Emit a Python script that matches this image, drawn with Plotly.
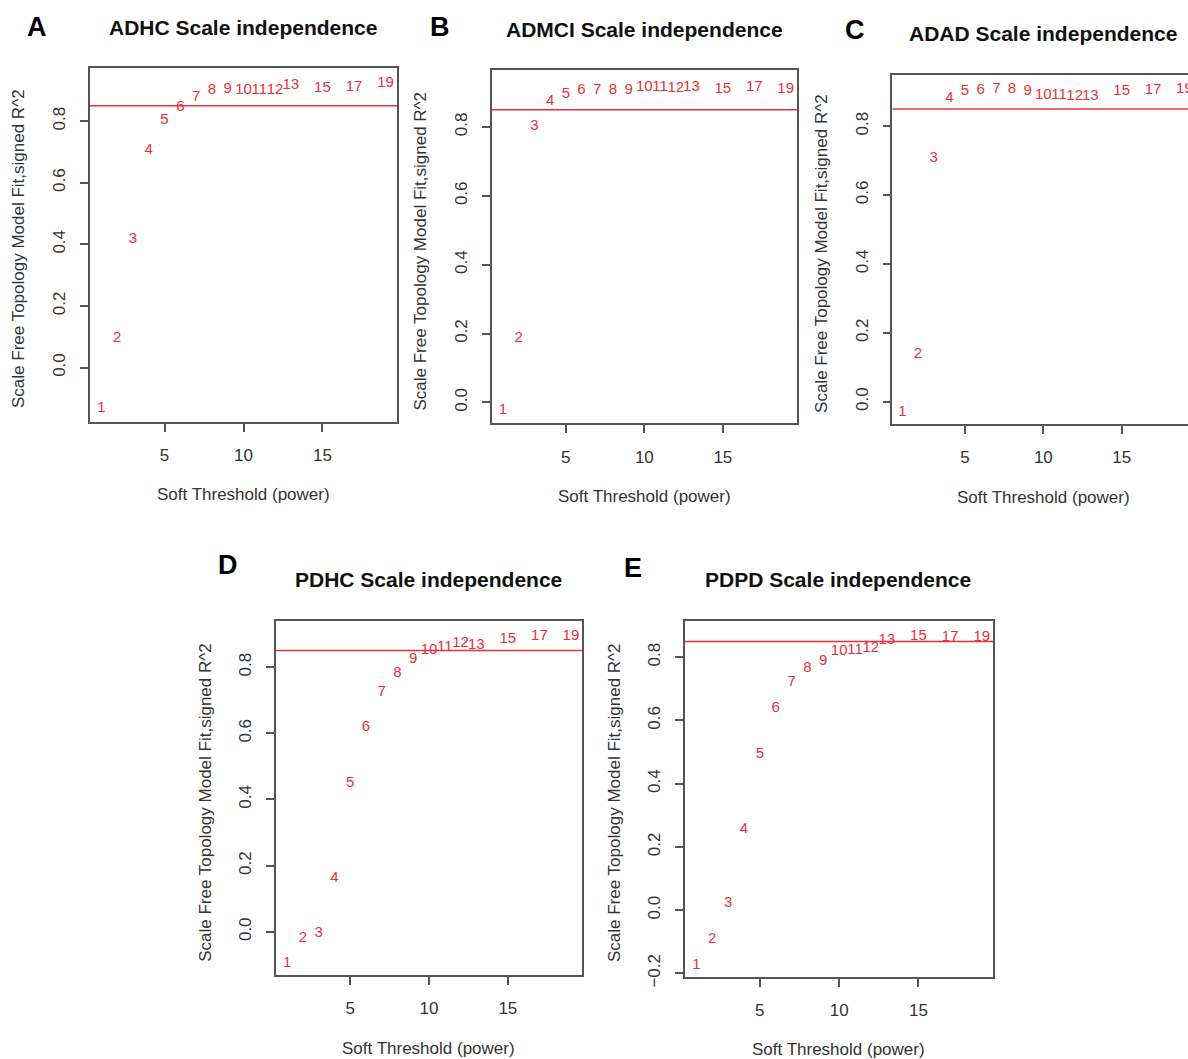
import plotly.graph_objects as go

W, H = 1188, 1059
H_FIG = 1072

powers = [1, 2, 3, 4, 5, 6, 7, 8, 9, 10, 11, 12, 13, 15, 17, 19]
power_labels = [str(p) for p in powers]

adhc_r2 = [-0.131, 0.095, 0.415, 0.706, 0.803, 0.845, 0.879, 0.899, 0.905, 0.899, 0.899, 0.900, 0.917, 0.908, 0.909, 0.923]
admci_r2 = [-0.024, 0.186, 0.802, 0.876, 0.894, 0.907, 0.907, 0.907, 0.907, 0.915, 0.915, 0.912, 0.915, 0.909, 0.915, 0.909]
adad_r2 = [-0.031, 0.137, 0.706, 0.881, 0.900, 0.903, 0.907, 0.907, 0.900, 0.890, 0.890, 0.887, 0.887, 0.900, 0.903, 0.907]
pdhc_r2 = [-0.094, -0.020, -0.003, 0.162, 0.449, 0.619, 0.724, 0.783, 0.823, 0.851, 0.861, 0.871, 0.867, 0.884, 0.894, 0.894]
pdpd_r2 = [-0.174, -0.092, 0.023, 0.255, 0.494, 0.637, 0.721, 0.764, 0.787, 0.819, 0.822, 0.829, 0.853, 0.866, 0.863, 0.863]

panel_letters = ["A", "B", "C", "D", "E"]
panel_titles = ["ADHC Scale independence", "ADMCI Scale independence", "ADAD Scale independence",
                "PDHC Scale independence", "PDPD Scale independence"]
series = [adhc_r2, admci_r2, adad_r2, pdhc_r2, pdpd_r2]
cutoff = 0.85
x_title = "Soft Threshold (power)"
y_title = "Scale Free Topology Model Fit,signed R^2"
x_ticks = [5, 10, 15]
y_ticks = [-0.2, 0.0, 0.2, 0.4, 0.6, 0.8]

# layout geometry in pixels: (left, right, top, bottom)
boxes = [(90, 397, 68, 421), (491.7, 797, 70, 422.7), (892.3, 1188, 75, 423.3),
         (275.7, 582.3, 620, 973.3), (685, 993.3, 620, 975)]
x_ranges = [[0.28, 19.72], [0.28, 19.72], [0.36, 19.23], [0.28, 19.72], [0.28, 19.72]]
y_ranges = [[-0.176, 0.972], [-0.061, 0.965], [-0.065, 0.948], [-0.131, 0.939], [-0.211, 0.914]]
title_pos = [(243, 27), (644, 29), (1043, 33), (428, 578), (838, 578)]
letter_pos = [(37, 27), (440, 27), (855, 30), (228, 564), (633, 567)]
xtitle_x = [243, 644, 1043, 428, 838]

RED = "#E8303A"
AX = "#555555"
TXT = "#333333"
FONT = "Liberation Sans, Arial, sans-serif"

def fx(px):
    return px / W

def fy(py):
    return 1 - py / H

fig = go.Figure()
annotations = []
for i in range(5):
    n = "" if i == 0 else str(i + 1)
    l, r, t, b = boxes[i]
    fig.add_trace(go.Scatter(
        x=powers, y=series[i], text=power_labels, mode="text",
        textfont=dict(color=RED, size=15, family=FONT),
        textposition="middle center", showlegend=False, hoverinfo="x+y",
        xaxis="x" + n, yaxis="y" + n))
    fig.add_trace(go.Scatter(
        x=x_ranges[i], y=[cutoff, cutoff], mode="lines",
        line=dict(color=RED, width=1.5), showlegend=False, hoverinfo="skip",
        xaxis="x" + n, yaxis="y" + n))
    fig.layout["xaxis" + n] = dict(
        domain=[fx(l), fx(r)], range=x_ranges[i], anchor="y" + n,
        tickvals=x_ticks, ticks="outside", ticklen=8, tickwidth=1.5, tickcolor=AX,
        ticklabelstandoff=9,
        showline=True, linecolor=AX, linewidth=1.5, mirror=True,
        showgrid=False, zeroline=False,
        tickfont=dict(size=17, color=TXT, family=FONT))
    fig.layout["yaxis" + n] = dict(
        domain=[fy(b), fy(t)], range=y_ranges[i], anchor="x" + n,
        tickvals=y_ticks, tickformat=".1f", tickangle=-90,
        ticks="outside", ticklen=8, tickwidth=1.5, tickcolor=AX,
        ticklabelstandoff=8,
        showline=True, linecolor=AX, linewidth=1.5, mirror=(i != 2),
        showgrid=False, zeroline=False,
        tickfont=dict(size=17, color=TXT, family=FONT))
    annotations.append(dict(
        text=x_title, xref="paper", yref="paper", x=fx(xtitle_x[i]),
        y=fy(b + 73), xanchor="center", yanchor="middle", showarrow=False,
        font=dict(size=17, color=TXT, family=FONT)))
    annotations.append(dict(
        text=y_title, xref="paper", yref="paper", x=fx(l - 71), y=fy((t + b) / 2 + 4),
        xanchor="center", yanchor="middle", textangle=-90, showarrow=False,
        font=dict(size=17, color=TXT, family=FONT)))
    annotations.append(dict(
        text="<b>" + panel_titles[i] + "</b>", xref="paper", yref="paper",
        x=fx(title_pos[i][0]), y=fy(title_pos[i][1]), xanchor="center", yanchor="middle",
        showarrow=False, font=dict(size=21, color="#111111", family=FONT)))
    annotations.append(dict(
        text="<b>" + panel_letters[i] + "</b>", xref="paper", yref="paper",
        x=fx(letter_pos[i][0]), y=fy(letter_pos[i][1]), xanchor="center", yanchor="middle",
        showarrow=False, font=dict(size=27, color="#000000", family=FONT)))

fig.update_layout(
    width=W, height=H_FIG, margin=dict(l=0, r=0, t=0, b=0),
    paper_bgcolor="white", plot_bgcolor="white",
    annotations=annotations, showlegend=False)

fig.write_html("out.html", config={"displayModeBar": False},
               post_script="document.body.style.margin='0';document.body.style.overflow='hidden';")
